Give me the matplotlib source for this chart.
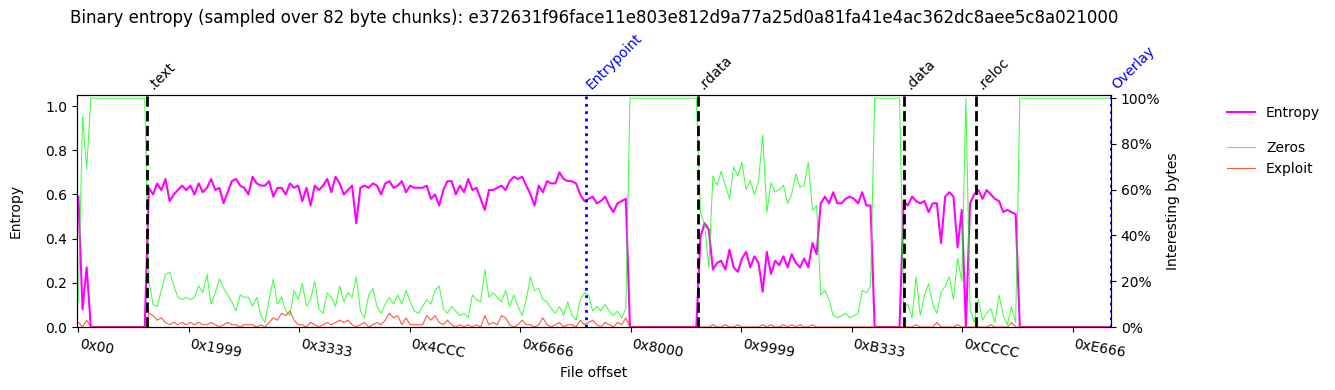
import numpy as np
import matplotlib
matplotlib.use('Agg')
from matplotlib import pyplot as plt
from matplotlib.ticker import PercentFormatter

# Chart data (one value every 3 chunks of 82 bytes)
chunk = 82
step = 3 * chunk

entropy = [
    0.59, 0.08, 0.27, 0, 0, 0, 0, 0, 0, 0,
    0, 0, 0, 0, 0, 0, 0, 0.63, 0.60, 0.65,
    0.62, 0.67, 0.57, 0.60, 0.62, 0.64, 0.62, 0.64, 0.60, 0.65,
    0.61, 0.63, 0.67, 0.62, 0.63, 0.56, 0.61, 0.66, 0.67, 0.64,
    0.63, 0.60, 0.68, 0.65, 0.64, 0.64, 0.66, 0.59, 0.63, 0.63,
    0.60, 0.65, 0.63, 0.64, 0.57, 0.63, 0.55, 0.64, 0.62, 0.64,
    0.67, 0.61, 0.68, 0.65, 0.60, 0.62, 0.64, 0.47, 0.63, 0.64,
    0.63, 0.65, 0.64, 0.60, 0.65, 0.66, 0.63, 0.64, 0.66, 0.61,
    0.64, 0.63, 0.63, 0.63, 0.64, 0.58, 0.60, 0.55, 0.62, 0.66,
    0.66, 0.60, 0.64, 0.61, 0.67, 0.62, 0.63, 0.58, 0.53, 0.62,
    0.62, 0.63, 0.64, 0.62, 0.66, 0.68, 0.67, 0.68, 0.64, 0.60,
    0.55, 0.64, 0.61, 0.66, 0.65, 0.65, 0.70, 0.67, 0.66, 0.66,
    0.65, 0.60, 0.57, 0.58, 0.59, 0.56, 0.57, 0.59, 0.55, 0.52,
    0.56, 0.57, 0.58, 0, 0, 0, 0, 0, 0, 0,
    0, 0, 0, 0, 0, 0, 0, 0, 0, 0,
    0.41, 0.47, 0.44, 0.26, 0.29, 0.30, 0.26, 0.35, 0.27, 0.25,
    0.31, 0.34, 0.27, 0.32, 0.29, 0.16, 0.34, 0.24, 0.30, 0.28,
    0.32, 0.27, 0.33, 0.29, 0.27, 0.31, 0.27, 0.38, 0.33, 0.56,
    0.59, 0.56, 0.61, 0.56, 0.56, 0.58, 0.59, 0.58, 0.56, 0.61,
    0.55, 0.55, 0, 0, 0, 0, 0, 0, 0, 0.57,
    0.55, 0.59, 0.57, 0.56, 0.57, 0.52, 0.56, 0.56, 0.38, 0.59,
    0.61, 0.59, 0.36, 0.53, 0, 0.56, 0.60, 0.62, 0.58, 0.62,
    0.60, 0.58, 0.57, 0.52, 0.53, 0.52, 0.51, 0, 0, 0,
    0, 0, 0, 0, 0, 0, 0, 0, 0, 0,
    0, 0, 0, 0, 0, 0, 0, 0, 0, 0,
]

zeros = [
    0.11, 0.92, 0.69, 1, 1, 1, 1, 1, 1, 1,
    1, 1, 1, 1, 1, 1, 1, 0.20, 0.10, 0.09,
    0.16, 0.23, 0.24, 0.18, 0.13, 0.12, 0.13, 0.12, 0.13, 0.18,
    0.15, 0.23, 0.10, 0.15, 0.21, 0.17, 0.14, 0.11, 0.07, 0.14,
    0.13, 0.13, 0.09, 0.13, 0.05, 0.02, 0.12, 0.21, 0.10, 0.13,
    0.07, 0.05, 0.16, 0.12, 0.19, 0.09, 0.12, 0.20, 0.08, 0.06,
    0.15, 0.13, 0.09, 0.18, 0.11, 0.15, 0.13, 0.22, 0.07, 0.04,
    0.14, 0.17, 0.09, 0.06, 0.10, 0.13, 0.10, 0.14, 0.10, 0.16,
    0.11, 0.07, 0.06, 0.09, 0.12, 0.10, 0.16, 0.18, 0.08, 0.06,
    0.09, 0.07, 0.05, 0.06, 0.04, 0.14, 0.12, 0.11, 0.25, 0.13,
    0.15, 0.13, 0.11, 0.16, 0.09, 0.14, 0.09, 0.05, 0.12, 0.22,
    0.16, 0.17, 0.12, 0.11, 0.08, 0.06, 0.09, 0.05, 0.11, 0.05,
    0.03, 0.12, 0.15, 0.14, 0.07, 0.09, 0.07, 0.10, 0.07, 0.05,
    0.07, 0.04, 0.08, 1, 1, 1, 1, 1, 1, 1,
    1, 1, 1, 1, 1, 1, 1, 1, 1, 1,
    0.50, 0.45, 0.26, 0.66, 0.62, 0.68, 0.62, 0.56, 0.70, 0.66,
    0.72, 0.60, 0.64, 0.58, 0.64, 0.84, 0.50, 0.63, 0.59, 0.60,
    0.62, 0.54, 0.58, 0.67, 0.61, 0.62, 0.72, 0.51, 0.53, 0.14,
    0.16, 0.12, 0.05, 0.04, 0.05, 0.06, 0.04, 0.05, 0.06, 0.16,
    0.15, 0.18, 1, 1, 1, 1, 1, 1, 1, 0.09,
    0.10, 0.04, 0.22, 0.05, 0.14, 0.19, 0.10, 0.06, 0.15, 0.18,
    0.22, 0.12, 0.30, 0.20, 1, 0.08, 0.02, 0.12, 0.03, 0.06,
    0.08, 0.02, 0.14, 0.05, 0.01, 0.09, 0.02, 1, 1, 1,
    1, 1, 1, 1, 1, 1, 1, 1, 1, 1,
    1, 1, 1, 1, 1, 1, 1, 1, 1, 1,
]

exploit = [
    0.02, 0, 0.03, 0, 0, 0, 0, 0, 0, 0,
    0, 0, 0, 0, 0, 0, 0, 0.06, 0.05, 0.03,
    0.04, 0.02, 0.01, 0.02, 0.01, 0.02, 0.01, 0.02, 0.01, 0.02,
    0.01, 0.01, 0.02, 0.01, 0, 0.01, 0.02, 0.01, 0.01, 0,
    0.01, 0.01, 0.01, 0, 0.01, 0, 0.02, 0.04, 0.03, 0.06,
    0.05, 0.07, 0.03, 0.01, 0.01, 0, 0.02, 0.01, 0, 0.01,
    0.02, 0.01, 0.02, 0.03, 0.02, 0.03, 0.01, 0, 0.01, 0.02,
    0, 0.01, 0.02, 0.01, 0.03, 0.06, 0.04, 0.05, 0.01, 0.04,
    0.01, 0.01, 0.01, 0.01, 0.05, 0.03, 0.05, 0.02, 0.01, 0.03,
    0.01, 0, 0.01, 0, 0.01, 0, 0.01, 0, 0.05, 0.01,
    0.02, 0.01, 0.05, 0.04, 0.01, 0, 0.01, 0.03, 0.01, 0.01,
    0, 0.01, 0.04, 0.01, 0, 0.01, 0.02, 0, 0.01, 0.01,
    0, 0.03, 0.01, 0.02, 0.03, 0.01, 0, 0.02, 0.01, 0,
    0.02, 0.01, 0.04, 0, 0, 0, 0, 0, 0, 0,
    0, 0, 0, 0, 0, 0, 0, 0, 0, 0,
    0, 0, 0, 0.01, 0, 0, 0.01, 0, 0, 0.01,
    0, 0, 0, 0, 0, 0.01, 0, 0.01, 0, 0,
    0.01, 0, 0.01, 0, 0.01, 0, 0, 0.01, 0, 0,
    0, 0, 0, 0, 0, 0, 0, 0, 0, 0,
    0, 0, 0, 0, 0, 0, 0, 0, 0, 0,
    0, 0, 0.01, 0, 0, 0, 0, 0.02, 0, 0,
    0, 0, 0.01, 0, 0, 0, 0, 0, 0, 0,
    0.01, 0, 0, 0, 0, 0.02, 0, 0, 0, 0,
    0, 0, 0, 0, 0, 0, 0, 0, 0, 0,
    0, 0, 0, 0, 0, 0, 0, 0, 0, 0,
]

# Sections and markers
section_names = ['.text', '.rdata', '.data', '.reloc']
section_offsets = [0x1000, 0x8F80, 0xBF50, 0xD000]
entrypoint = 0x7590
overlay = 0xEF30
file_end = 61250

xtick_labels = ['0x00', '0x1999', '0x3333', '0x4CCC', '0x6666',
                '0x8000', '0x9999', '0xB333', '0xCCCC', '0xE666']

title = ('Binary entropy (sampled over 82 byte chunks): '
         'e372631f96face11e803e812d9a77a25d0a81fa41e4ac362dc8aee5c8a021000')

# Figure
fig = plt.figure(figsize=(13.35, 3.9), dpi=100)
ax = fig.add_axes([0.0577, 0.1615, 0.7745, 0.5949])
ax2 = ax.twinx()

x_ent = np.arange(len(entropy)) * step
x_zer = np.arange(len(zeros)) * step
x_exp = np.arange(len(exploit)) * step

l_ent, = ax.plot(x_ent, entropy, color='#ff00ff', lw=1.5, label='Entropy')
l_zer, = ax2.plot(x_zer, zeros, color='#00ff00', lw=0.75, alpha=0.75, label='Zeros')
l_exp, = ax2.plot(x_exp, exploit, color='#ff3b1f', lw=0.8, alpha=0.85, label='Exploit')

# Section / entrypoint / overlay markers
label_offset = (6, 2)
for name, off in zip(section_names, section_offsets):
    ax2.axvline(off, color='black', ls='--', lw=2)
    ax2.annotate(name, xy=(off, 1), xycoords=('data', 'axes fraction'),
                 xytext=label_offset, textcoords='offset points', rotation=45,
                 rotation_mode='anchor', ha='left', va='bottom', fontsize=10)
for name, off in [('Entrypoint', entrypoint), ('Overlay', overlay)]:
    ax2.axvline(off, color='blue', ls=':', lw=2)
    ax2.annotate(name, xy=(off, 1), xycoords=('data', 'axes fraction'),
                 xytext=label_offset, textcoords='offset points', rotation=45,
                 rotation_mode='anchor', ha='left', va='bottom', fontsize=10,
                 color='blue')

# Axes
ax.set_xlim(-80, file_end)
ax.set_ylim(0, 1.05)
ax2.set_ylim(0, 1.014)
ax2.yaxis.set_major_formatter(PercentFormatter(1.0, decimals=0))
ax.set_xticks([int(t, 16) for t in xtick_labels])
ax.set_xticklabels(xtick_labels, rotation=-10, ha='left')
ax.set_xlabel('File offset')
ax.set_ylabel('Entropy', labelpad=16)
ax2.set_ylabel('Interesting bytes')

fig.text(0.0577 + 0.7745 / 2, 0.954, title, ha='center', va='center', fontsize=12)

# Legends
fig.legend(handles=[l_ent], loc='center left', bbox_to_anchor=(0.9191, 0.7103),
           frameon=False, borderpad=0, borderaxespad=0)
fig.legend(handles=[l_zer, l_exp], loc='center left', bbox_to_anchor=(0.9191, 0.5928),
           frameon=False, borderpad=0, borderaxespad=0)

fig.savefig('out.png', dpi=100)
